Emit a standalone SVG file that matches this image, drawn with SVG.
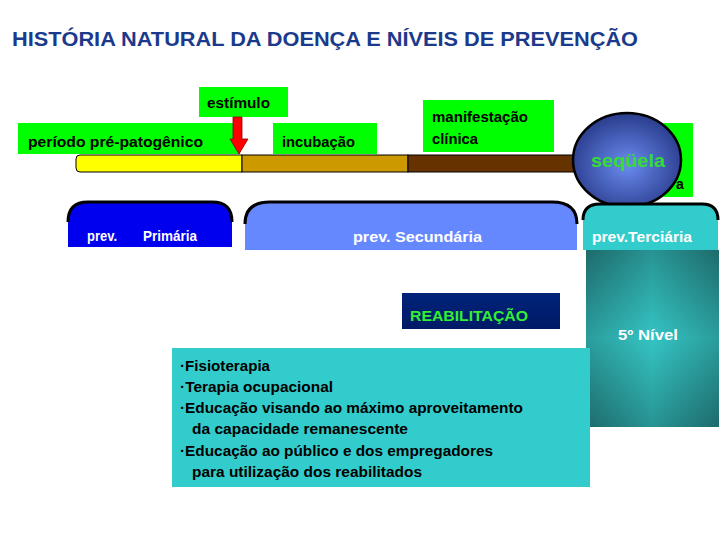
<svg xmlns="http://www.w3.org/2000/svg" width="720" height="540" viewBox="0 0 720 540">
<defs>
<style>
text{font-family:"Liberation Sans",Arial,sans-serif;font-weight:bold}
.lbl{font-size:14px;fill:#000}
.wt{font-size:14px;fill:#fff}
.grn{fill:#00ff00}
.list{font-size:15px;fill:#000}
</style>
<radialGradient id="ball" cx="50%" cy="55%" r="55%">
<stop offset="0" stop-color="#6a8cf0"/>
<stop offset="1" stop-color="#2a3c8c"/>
</radialGradient>
<linearGradient id="hz" x1="0" y1="0" x2="1" y2="0">
<stop offset="0" stop-color="#1e6b6b"/>
<stop offset="0.5" stop-color="#35c4c4"/>
<stop offset="1" stop-color="#1e6b6b"/>
</linearGradient>
<linearGradient id="vt" x1="0" y1="0" x2="0" y2="1">
<stop offset="0" stop-color="#1e6b6b"/>
<stop offset="0.5" stop-color="#35c4c4"/>
<stop offset="1" stop-color="#1e6b6b"/>
</linearGradient>
<linearGradient id="navy" x1="0" y1="0" x2="0" y2="1">
<stop offset="0" stop-color="#00237a"/>
<stop offset="1" stop-color="#001a66"/>
</linearGradient>
</defs>
<rect width="720" height="540" fill="#fff"/>
<text x="12" y="45.5" font-size="20.5" fill="#1b3a8c" textLength="626" lengthAdjust="spacingAndGlyphs">HISTÓRIA NATURAL DA DOENÇA E NÍVEIS DE PREVENÇÃO</text>

<g id="label-prepatogenico">
<rect class="grn" x="18" y="123" width="222" height="31"/>
<text class="lbl" x="28" y="147" textLength="175" lengthAdjust="spacingAndGlyphs">período pré-patogênico</text>
</g>
<g id="label-estimulo">
<rect class="grn" x="199" y="87" width="89" height="30"/>
<text class="lbl" x="207" y="108" textLength="63" lengthAdjust="spacingAndGlyphs">estímulo</text>
</g>
<g id="label-incubacao">
<rect class="grn" x="273" y="123" width="104" height="31"/>
<text class="lbl" x="282" y="147" textLength="73" lengthAdjust="spacingAndGlyphs">incubação</text>
</g>
<g id="label-manifestacao">
<rect class="grn" x="423" y="100" width="131" height="52"/>
<text class="lbl" x="432" y="122" textLength="96" lengthAdjust="spacingAndGlyphs">manifestação</text>
<text class="lbl" x="432" y="144" textLength="46" lengthAdjust="spacingAndGlyphs">clínica</text>
</g>
<g id="label-right">
<rect class="grn" x="660" y="123" width="33" height="74"/>
<text class="lbl" x="676" y="189" font-family="Liberation Serif">a</text>
</g>

<g id="timeline">
<path d="M80,155 H242 V172 H80 Q76,172 76,168 V159 Q76,155 80,155 Z" fill="#ffff00" stroke="#000" stroke-width="1"/>
<rect x="242" y="155" width="166" height="17" fill="#cc9900" stroke="#000" stroke-width="1"/>
<rect x="408" y="155" width="200" height="17" fill="#663300" stroke="#000" stroke-width="1"/>
</g>

<g id="connectors">
<polygon points="233,117 242,117 242,139 248,139 239,154 230,139 233,139" fill="#ff0000" stroke="#8a0000" stroke-width="0.8"/>
</g>

<g id="sequela">
<ellipse cx="627" cy="160" rx="54" ry="47" fill="url(#ball)" stroke="#000" stroke-width="2.5"/>
<text x="628" y="167" font-size="19" fill="#33dd33" text-anchor="middle" textLength="74" lengthAdjust="spacingAndGlyphs">seqüela</text>
</g>

<g id="prev-primaria">
<path d="M68,247 V222 Q68,202 88,202 H212 Q232,202 232,222 V247 Z" fill="#0000ee"/>
<path d="M68,222 Q68,202 88,202 H212 Q232,202 232,222" fill="none" stroke="#000" stroke-width="3"/>
<text class="wt" x="87" y="241" textLength="30" lengthAdjust="spacingAndGlyphs">prev.</text>
<text class="wt" x="143" y="241" textLength="54" lengthAdjust="spacingAndGlyphs">Primária</text>
</g>
<g id="prev-secundaria">
<path d="M245,250 V224 Q245,202 270,202 H552 Q577,202 577,224 V250 Z" fill="#6688ff"/>
<path d="M245,224 Q245,202 270,202 H552 Q577,202 577,224" fill="none" stroke="#000" stroke-width="3"/>
<text class="wt" x="353" y="242" textLength="129" lengthAdjust="spacingAndGlyphs">prev.  Secundária</text>
</g>
<g id="prev-terciaria">
<path d="M583,250 V220 Q583,204 600,204 H702 Q718,204 718,220 V250 Z" fill="#33cccc"/>
<path d="M583,220 Q583,204 600,204 H702 Q718,204 718,220" fill="none" stroke="#000" stroke-width="3"/>
<text class="wt" x="592" y="242" textLength="100" lengthAdjust="spacingAndGlyphs">prev.Terciária</text>
</g>

<g id="nivel5">
<rect x="586" y="250" width="133" height="177" fill="url(#hz)"/>
<rect x="586" y="250" width="133" height="177" fill="url(#vt)" opacity="0.55"/>
<text class="wt" x="618" y="340" textLength="60" lengthAdjust="spacingAndGlyphs">5º Nível</text>
</g>

<g id="reabilitacao">
<rect x="402" y="293" width="158" height="36" fill="url(#navy)"/>
<text x="410" y="321" font-size="15" fill="#33ee33" textLength="118" lengthAdjust="spacingAndGlyphs">REABILITAÇÃO</text>
</g>

<g id="lista">
<rect x="172" y="348" width="418" height="139" fill="#33cccc"/>
<text class="list" x="180" y="371" textLength="90" lengthAdjust="spacingAndGlyphs">·Fisioterapia</text>
<text class="list" x="180" y="392" textLength="153" lengthAdjust="spacingAndGlyphs">·Terapia ocupacional</text>
<text class="list" x="180" y="413" textLength="343" lengthAdjust="spacingAndGlyphs">·Educação visando ao máximo aproveitamento</text>
<text class="list" x="192" y="434" textLength="216" lengthAdjust="spacingAndGlyphs">da capacidade remanescente</text>
<text class="list" x="180" y="456" textLength="313" lengthAdjust="spacingAndGlyphs">·Educação ao público e dos empregadores</text>
<text class="list" x="192" y="477" textLength="230" lengthAdjust="spacingAndGlyphs">para utilização dos reabilitados</text>
</g>
</svg>
